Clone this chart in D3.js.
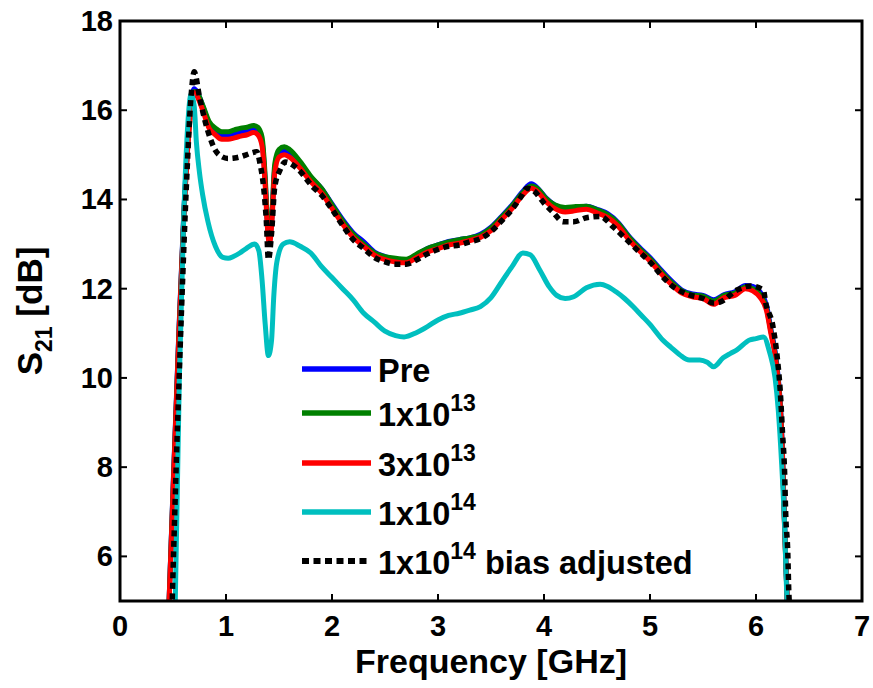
<!DOCTYPE html>
<html>
<head>
<meta charset="utf-8">
<script src="https://cdn.jsdelivr.net/npm/d3@7"></script>
<style>
  body { margin: 0; background: #fff; }
  text { font-family: "Liberation Sans", Arial, sans-serif; font-weight: bold; }
</style>
</head>
<body>
<div id="chart"></div>
<script>
// frequency grid shared by the Pre / 1e13 / 3e13 traces (GHz)
freqMain = [0.46, 0.50, 0.55, 0.60, 0.65, 0.70, 0.73, 0.78, 0.84, 0.90, 0.96, 1.02, 1.08, 1.14, 1.20, 1.26, 1.30, 1.34, 1.37, 1.39,
    1.41, 1.43, 1.46, 1.50, 1.55, 1.60, 1.70, 1.80, 1.90, 2.00, 2.10, 2.20, 2.30, 2.40, 2.50, 2.60, 2.70, 2.80, 2.90, 3.00,
    3.10, 3.20, 3.30, 3.40, 3.50, 3.60, 3.70, 3.80, 3.88, 3.95, 4.02, 4.10, 4.20, 4.30, 4.40, 4.50, 4.60, 4.70, 4.80, 4.90,
    5.00, 5.10, 5.20, 5.30, 5.40, 5.50, 5.60, 5.70, 5.80, 5.90, 5.97, 6.04, 6.10, 6.14, 6.18, 6.21, 6.23, 6.25, 6.27, 6.30];

s21Pre = [4.8, 7.5, 10.7, 13.6, 15.6, 16.48, 16.4, 16.1, 15.7, 15.55, 15.45, 15.45, 15.47, 15.5, 15.53, 15.58, 15.52, 15.3, 14.4, 13.5,
    13.05, 13.5, 14.7, 15.05, 15.1, 15.05, 14.8, 14.5, 14.25, 13.9, 13.55, 13.25, 13.05, 12.82, 12.72, 12.66, 12.64, 12.76, 12.9, 12.98,
    13.06, 13.1, 13.14, 13.22, 13.38, 13.62, 13.88, 14.18, 14.35, 14.23, 14.03, 13.88, 13.8, 13.82, 13.85, 13.78, 13.68, 13.48, 13.18, 12.93,
    12.7, 12.43, 12.18, 11.97, 11.88, 11.85, 11.75, 11.87, 11.93, 12.07, 12.05, 11.92, 11.62, 11.1, 10.6, 10.0, 9.4, 8.3, 6.7, 4.6];

s21E13 = [4.8, 7.45, 10.65, 13.55, 15.55, 16.42, 16.38, 16.12, 15.75, 15.6, 15.52, 15.52, 15.56, 15.6, 15.62, 15.66, 15.62, 15.4, 14.5, 13.55,
    13.1, 13.55, 14.8, 15.12, 15.18, 15.12, 14.85, 14.52, 14.25, 13.88, 13.52, 13.22, 13.0, 12.8, 12.72, 12.68, 12.66, 12.78, 12.9, 12.98,
    13.05, 13.1, 13.14, 13.2, 13.36, 13.6, 13.86, 14.15, 14.3, 14.22, 14.02, 13.88, 13.82, 13.84, 13.85, 13.77, 13.66, 13.46, 13.16, 12.9,
    12.67, 12.4, 12.15, 11.95, 11.86, 11.83, 11.72, 11.85, 11.9, 12.04, 12.0, 11.86, 11.55, 11.05, 10.55, 9.95, 9.35, 8.25, 6.65, 4.6];

s21ThreeE13 = [4.8, 7.4, 10.6, 13.5, 15.5, 16.4, 16.3, 16.0, 15.6, 15.45, 15.35, 15.35, 15.38, 15.42, 15.45, 15.5, 15.45, 15.2, 14.3, 13.4,
    13.0, 13.4, 14.6, 14.95, 15.0, 14.95, 14.7, 14.4, 14.15, 13.8, 13.45, 13.15, 12.95, 12.75, 12.65, 12.6, 12.58, 12.7, 12.82, 12.9,
    12.98, 13.02, 13.08, 13.15, 13.3, 13.55, 13.8, 14.1, 14.25, 14.15, 13.95, 13.8, 13.72, 13.75, 13.78, 13.7, 13.6, 13.4, 13.1, 12.85,
    12.62, 12.35, 12.1, 11.9, 11.82, 11.78, 11.65, 11.8, 11.85, 12.0, 11.95, 11.8, 11.5, 11.0, 10.5, 9.9, 9.3, 8.2, 6.6, 4.6];

freqE14 = [0.52, 0.56, 0.60, 0.64, 0.67, 0.70, 0.72, 0.75, 0.78, 0.83, 0.90, 0.97, 1.02, 1.07, 1.13, 1.19, 1.27, 1.31, 1.34, 1.37,
    1.40, 1.43, 1.45, 1.48, 1.54, 1.60, 1.70, 1.80, 1.90, 2.00, 2.10, 2.20, 2.30, 2.40, 2.50, 2.60, 2.68, 2.80, 2.90, 3.00,
    3.10, 3.20, 3.30, 3.40, 3.50, 3.60, 3.70, 3.80, 3.87, 3.96, 4.05, 4.12, 4.20, 4.28, 4.40, 4.53, 4.60, 4.68, 4.76, 4.84,
    4.92, 5.00, 5.12, 5.20, 5.28, 5.37, 5.47, 5.54, 5.60, 5.69, 5.76, 5.82, 5.94, 6.00, 6.07, 6.13, 6.18, 6.21, 6.24, 6.27, 6.29, 6.31];

s21E14 = [4.8, 10.0, 13.5, 15.7, 16.35, 16.1, 15.3, 14.6, 14.1, 13.5, 12.95, 12.7, 12.68, 12.72, 12.8, 12.9, 13.0, 12.85, 12.2, 11.2,
    10.5, 10.85, 11.8, 12.6, 13.0, 13.05, 12.95, 12.8, 12.5, 12.25, 12.0, 11.75, 11.45, 11.25, 11.05, 10.95, 10.92, 11.02, 11.15, 11.3,
    11.4, 11.45, 11.52, 11.6, 11.8, 12.15, 12.5, 12.8, 12.76, 12.42, 12.04, 11.85, 11.78, 11.82, 12.02, 12.1, 12.05, 11.93, 11.78, 11.6,
    11.4, 11.2, 10.85, 10.68, 10.52, 10.4, 10.4, 10.35, 10.25, 10.45, 10.55, 10.63, 10.85, 10.88, 10.92, 10.56, 10.0, 9.28, 8.16, 6.66, 5.17, 4.6];

freqBias = [0.49, 0.53, 0.58, 0.63, 0.67, 0.70, 0.75, 0.80, 0.85, 0.90, 0.96, 1.02, 1.08, 1.14, 1.19, 1.25, 1.29, 1.32, 1.36, 1.38,
    1.40, 1.43, 1.46, 1.51, 1.56, 1.67, 1.82, 1.90, 2.00, 2.10, 2.20, 2.30, 2.40, 2.50, 2.60, 2.70, 2.80, 2.90, 3.00, 3.10,
    3.20, 3.30, 3.40, 3.50, 3.60, 3.70, 3.78, 3.84, 3.90, 4.00, 4.09, 4.18, 4.28, 4.40, 4.53, 4.65, 4.81, 4.90, 5.00, 5.10,
    5.20, 5.35, 5.50, 5.60, 5.66, 5.82, 5.95, 6.07, 6.09, 6.16, 6.20, 6.23, 6.25, 6.27, 6.28, 6.30, 6.31, 6.33];

s21Bias = [4.8, 8.0, 11.5, 14.5, 16.3, 16.86, 16.3, 15.78, 15.38, 15.1, 14.96, 14.92, 14.93, 14.96, 15.0, 15.05, 15.07, 14.82, 14.15, 13.54,
    12.65, 13.25, 14.28, 14.66, 14.84, 14.7, 14.28, 14.1, 13.78, 13.42, 13.1, 12.9, 12.7, 12.6, 12.55, 12.55, 12.65, 12.78, 12.88, 12.95,
    12.98, 13.05, 13.12, 13.28, 13.52, 13.78, 14.05, 14.25, 14.2, 13.92, 13.7, 13.5, 13.5, 13.59, 13.62, 13.39, 13.03, 12.82, 12.6, 12.32,
    12.08, 11.88, 11.78, 11.68, 11.7, 11.97, 12.06, 11.97, 11.7, 11.15, 10.47, 9.66, 8.77, 7.87, 6.97, 6.07, 5.17, 4.6];

xTicks = [0, 1, 2, 3, 4, 5, 6, 7];
yTicks = [6, 8, 10, 12, 14, 16, 18];

series = [
    {name: 'Pre', sup: '', rest: '', freq: freqMain, vals: s21Pre, color: '#0000ff', dash: null},
    {name: '1x10', sup: '13', rest: '', freq: freqMain, vals: s21E13, color: '#008000', dash: null},
    {name: '3x10', sup: '13', rest: '', freq: freqMain, vals: s21ThreeE13, color: '#ff0000', dash: null},
    {name: '1x10', sup: '14', rest: '', freq: freqE14, vals: s21E14, color: '#00bfbf', dash: null},
    {name: '1x10', sup: '14', rest: ' bias adjusted', freq: freqBias, vals: s21Bias, color: '#000000', dash: '6,4.5'}
];

width = 873;
height = 688;
margin = ({top: 21, right: 11, bottom: 87, left: 120});

const svg = d3.select('#chart').append('svg')
    .attr('width', width)
    .attr('height', height);

const x = d3.scaleLinear().domain([0, 7]).range([margin.left, width - margin.right]);
const y = d3.scaleLinear().domain([5, 18]).range([height - margin.bottom, margin.top]);

svg.append('clipPath').attr('id', 'plot-clip')
    .append('rect')
    .attr('x', x(0)).attr('y', y(18))
    .attr('width', x(7) - x(0)).attr('height', y(5) - y(18));

// ticks on all four sides, pointing inward
const tickLen = 7;
const axes = svg.append('g').attr('stroke', '#000').attr('stroke-width', 2);
xTicks.slice(1, -1).forEach(t => {
    axes.append('line').attr('x1', x(t)).attr('x2', x(t)).attr('y1', y(5)).attr('y2', y(5) - tickLen);
    axes.append('line').attr('x1', x(t)).attr('x2', x(t)).attr('y1', y(18)).attr('y2', y(18) + tickLen);
});
yTicks.slice(0, -1).forEach(t => {
    axes.append('line').attr('x1', x(0)).attr('x2', x(0) + tickLen).attr('y1', y(t)).attr('y2', y(t));
    axes.append('line').attr('x1', x(7)).attr('x2', x(7) - tickLen).attr('y1', y(t)).attr('y2', y(t));
});

svg.append('g')
    .attr('font-size', 29)
    .attr('text-anchor', 'middle')
    .selectAll('text')
    .data(xTicks)
    .join('text')
    .attr('x', d => x(d))
    .attr('y', y(5) + 34.5)
    .text(d => d);

svg.append('g')
    .attr('font-size', 29)
    .attr('text-anchor', 'end')
    .selectAll('text')
    .data(yTicks)
    .join('text')
    .attr('x', x(0) - 7)
    .attr('y', d => y(d) + 10)
    .text(d => d);

// Lines
const line = d3.line()
    .x(d => x(d[0]))
    .y(d => y(d[1]))
    .curve(d3.curveMonotoneX);

const plot = svg.append('g').attr('clip-path', 'url(#plot-clip)');
series.forEach(s => {
    plot.append('path')
        .datum(d3.zip(s.freq, s.vals))
        .attr('fill', 'none')
        .attr('stroke', s.color)
        .attr('stroke-width', s.dash ? 5.5 : 5)
        .attr('stroke-linejoin', 'round')
        .attr('stroke-linecap', s.dash ? 'butt' : 'round')
        .attr('stroke-dasharray', s.dash)
        .attr('d', line);
});

// Frame
svg.append('rect')
    .attr('x', x(0)).attr('y', y(18))
    .attr('width', x(7) - x(0)).attr('height', y(5) - y(18))
    .attr('fill', 'none')
    .attr('stroke', '#000')
    .attr('stroke-width', 3);

// Legend
const legendRows = [369, 413, 463, 512, 561];
const legend = svg.append('g');
series.forEach((s, i) => {
    const ly = legendRows[i];
    legend.append('line')
        .attr('x1', 302).attr('x2', 371)
        .attr('y1', ly).attr('y2', ly)
        .attr('stroke', s.color)
        .attr('stroke-width', s.dash ? 6 : 5.5)
        .attr('stroke-dasharray', s.dash ? '7,4.5' : null);
    const t = legend.append('text')
        .attr('x', 378)
        .attr('y', ly + 13)
        .attr('font-size', 32.5);
    t.append('tspan').text(s.name);
    if (s.sup) {
        t.append('tspan').attr('font-size', 23).attr('dy', -15).text(s.sup);
        t.append('tspan').attr('dy', 15).text(s.rest);
    }
});

// Axis labels
svg.append('text')
    .attr('x', (x(0) + x(7)) / 2)
    .attr('y', 673)
    .attr('text-anchor', 'middle')
    .attr('font-size', 34)
    .text('Frequency [GHz]');

const yl = svg.append('text')
    .attr('transform', `translate(42,${(y(5) + y(18)) / 2}) rotate(-90)`)
    .attr('text-anchor', 'middle')
    .attr('font-size', 35);
yl.append('tspan').text('S');
yl.append('tspan').attr('font-size', 23).attr('dy', 10).text('21');
yl.append('tspan').attr('dy', -10).text('\u00a0[dB]');
</script>
</body>
</html>
